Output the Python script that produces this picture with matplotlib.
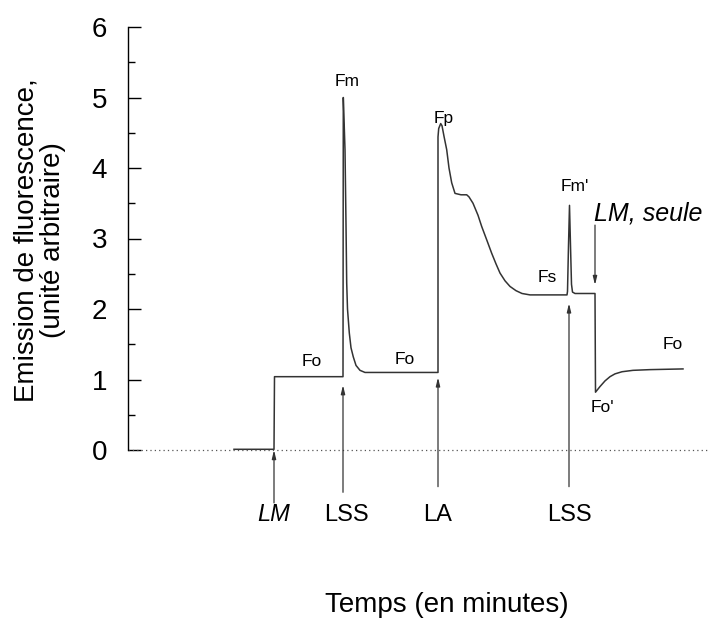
import matplotlib
matplotlib.use("Agg")
import matplotlib.pyplot as plt
from matplotlib.ticker import FixedLocator

plt.rcParams['font.family'] = ['Liberation Sans', 'DejaVu Sans']

# --- data (time in arbitrary minutes, fluorescence in arbitrary units) ---
time = [10.6, 14.6, 14.65, 21.5, 21.53, 21.6, 21.7, 21.8, 21.87, 21.95, 22.13,
        22.3, 22.53, 22.8, 23.2, 23.7,
        31.0, 31.0, 31.0, 31.07, 31.27, 31.4, 31.6, 31.87, 32.1, 32.37, 32.7,
        33.3, 33.87, 34.1, 34.5, 35.0, 35.37, 35.9, 36.37, 36.8, 37.2, 37.7,
        38.2, 38.8, 39.4, 40.2, 43.9, 43.95, 44.05, 44.15, 44.25, 44.35,
        44.45, 44.7, 46.7, 46.75, 47.2, 47.7, 48.2, 48.7, 49.4, 50.5, 52.2, 55.5]
fluo = [0.01, 0.01, 1.04, 1.04, 5.0, 4.7, 4.26, 3.2, 2.37, 2.0, 1.66,
        1.45, 1.32, 1.2, 1.13, 1.10,
        1.10, 3.6, 4.44, 4.56, 4.63, 4.6, 4.45, 4.26, 4.0, 3.79, 3.64,
        3.62, 3.62, 3.59, 3.50, 3.33, 3.17, 2.97, 2.79, 2.64, 2.51, 2.40,
        2.32, 2.26, 2.22, 2.20, 2.20, 2.25, 2.9, 3.47, 2.9, 2.35,
        2.24, 2.22, 2.22, 0.82, 0.90, 0.98, 1.04, 1.08, 1.11, 1.13, 1.14, 1.15]

# event arrows: (time, tail value, head value)
arrow_times = [14.6, 21.5, 31.0, 44.1]
arrow_tails = [-0.75, -0.60, -0.52, -0.52]
arrow_heads = [0.0, 0.92, 1.03, 2.08]
arrow_labels = ["LM", "LSS", "LA", "LSS"]
arrow_italic = [True, False, False, False]

# curve annotations
point_labels = ["Fo", "Fm", "Fo", "Fp", "Fs", "Fm'", "Fo'", "Fo"]
point_times = [18.4, 21.9, 27.7, 31.6, 41.9, 44.7, 47.4, 54.5]
point_values = [1.26, 5.23, 1.28, 4.7, 2.45, 3.74, 0.6, 1.49]

yticks = [0, 1, 2, 3, 4, 5, 6]
yminor = [0.5, 1.5, 2.5, 3.5, 4.5, 5.5]

# --- figure ---
W, H = 710, 628
fig = plt.figure(figsize=(W / 100, H / 100), dpi=100)
x0_px, x1_px = 128, 710
top_px, bot_px = 27, 560
ax = fig.add_axes([x0_px / W, 1 - bot_px / H, (x1_px - x0_px) / W, (bot_px - top_px) / H])

ppu = (450 - 27) / 6.0  # pixels per unit
ax.set_ylim(-(bot_px - 450) / ppu, 6)
ax.set_xlim(0, (x1_px - x0_px) / 10.0)

line_col = '#333333'
ax.plot(time, fluo, color=line_col, lw=1.1, solid_joinstyle='round')

# dotted baseline
ax.axhline(0, color='#555555', lw=0.9, ls=(0, (1, 2.5)))

for t, a0, a1, lab, it in zip(arrow_times, arrow_tails, arrow_heads, arrow_labels, arrow_italic):
    ax.annotate("", xy=(t, a1), xytext=(t, a0),
                arrowprops=dict(arrowstyle='-|>,head_length=0.5,head_width=0.12',
                                color=line_col, lw=0.9, shrinkA=0, shrinkB=0))
    ax.text(t + (0.3 if lab == "LSS" and t < 30 else 0), -0.92, lab, ha='center', va='center',
            fontsize=17, style='italic' if it else 'normal', color='black')

# LM, seule arrow (downward)
ax.annotate("", xy=(46.7, 2.34), xytext=(46.7, 3.19),
            arrowprops=dict(arrowstyle='-|>,head_length=0.5,head_width=0.12',
                            color=line_col, lw=0.9, shrinkA=0, shrinkB=0))
ax.text(52.0, 3.36, "LM, seule", ha='center', va='center', fontsize=18, style='italic')

for lab, t, v in zip(point_labels, point_times, point_values):
    ax.text(t, v, lab, ha='center', va='center', fontsize=12.5)

# y axis styling
for s in ['top', 'right', 'bottom']:
    ax.spines[s].set_visible(False)
ax.spines['left'].set_bounds(0, 6)
ax.spines['left'].set_linewidth(1.0)
ax.set_yticks(yticks)
ax.yaxis.set_minor_locator(FixedLocator(yminor))
ax.tick_params(axis='y', which='major', direction='in', length=9.5, width=1.0,
               pad=15, labelsize=20)
ax.tick_params(axis='y', which='minor', direction='in', length=5, width=1.0)
ax.set_xticks([])

fig.text(40 / W, 1 - 240 / H, "Emission de fluorescence,\n(unité arbitraire)",
         rotation=90, ha='center', va='center', fontsize=20, multialignment='center',
         linespacing=1.0)
fig.text(447 / W, 1 - 605 / H, "Temps (en minutes)", ha='center', va='center', fontsize=20)

fig.savefig("out.png", dpi=100)
